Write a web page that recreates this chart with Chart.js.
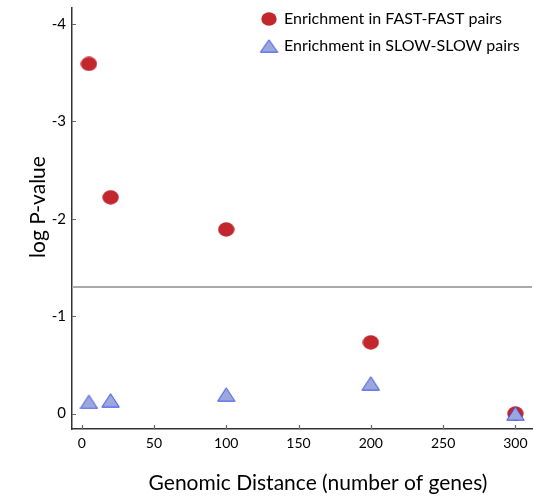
<!DOCTYPE html>
<html>
<head>
<meta charset="utf-8">
<script src="https://cdn.jsdelivr.net/npm/chart.js@4/dist/chart.umd.min.js"></script>
<style>
  html, body { margin: 0; padding: 0; background: #fff; }
  #wrap { position: relative; width: 533px; height: 498px; }
</style>
</head>
<body>
<div id="wrap"><canvas id="c" width="533" height="498"></canvas></div>
<script>
// ---- data ----
const distances = [5, 20, 100, 200, 300];
const fastFastLogP = [-3.59, -2.22, -1.89, -0.73, 0.0];
const slowSlowLogP = [-0.12, -0.135, -0.195, -0.31, 0.0];
const significanceLogP = -1.3;
const xTickValues = [0, 50, 100, 150, 200, 250, 300];
const yTickValues = [-4, -3, -2, -1, 0];
const seriesLabels = ['Enrichment in FAST-FAST pairs', 'Enrichment in SLOW-SLOW pairs'];
const xTitle = 'Genomic Distance (number of genes)';
const yTitle = 'log P-value';

// ---- styles ----
const RED = '#c1272d';
const BLUE_FILL = '#9ba8dc';
const BLUE_EDGE = '#3b4cf0';
const FONT = 'Lato, "Open Sans", sans-serif';

function ellipseImg(w, h, color) {
  const c = document.createElement('canvas');
  c.width = w; c.height = h;
  const g = c.getContext('2d');
  g.fillStyle = color;
  g.beginPath();
  g.ellipse(w / 2, h / 2, w / 2 - 0.3, h / 2 - 0.3, 0, 0, Math.PI * 2);
  g.fill();
  return c;
}
function triangleImg(w, h) {
  const c = document.createElement('canvas');
  c.width = w; c.height = h;
  const g = c.getContext('2d');
  g.fillStyle = BLUE_FILL;
  g.strokeStyle = BLUE_EDGE;
  g.lineWidth = 1;
  g.beginPath();
  g.moveTo(w / 2, 0.8);
  g.lineTo(w - 0.8, h - 0.8);
  g.lineTo(0.8, h - 0.8);
  g.closePath();
  g.fill();
  g.stroke();
  return c;
}
const redDot = ellipseImg(17, 15, RED);
const blueTri = triangleImg(19, 15);
const redDotLegend = ellipseImg(16, 14, RED);
const blueTriLegend = triangleImg(19, 14);

const pts = (ys) => distances.map((x, i) => ({ x: x, y: ys[i] }));

const overlay = {
  id: 'overlay',
  beforeDatasetsDraw(chart) {
    const { ctx, chartArea, scales } = chart;
    const y = scales.y.getPixelForValue(significanceLogP);
    ctx.save();
    ctx.strokeStyle = '#aaaaaa';
    ctx.lineWidth = 2;
    ctx.beginPath();
    ctx.moveTo(chartArea.left, y);
    ctx.lineTo(chartArea.right, y);
    ctx.stroke();
    ctx.restore();
  },
  afterDraw(chart) {
    const { ctx, chartArea, scales } = chart;
    ctx.save();
    // inward tick marks
    ctx.strokeStyle = '#666';
    ctx.lineWidth = 1.2;
    ctx.beginPath();
    yTickValues.forEach(v => {
      const py = Math.round(scales.y.getPixelForValue(v)) + 0.5;
      ctx.moveTo(chartArea.left, py);
      ctx.lineTo(chartArea.left + 4, py);
    });
    xTickValues.forEach(v => {
      const px = Math.round(scales.x.getPixelForValue(v)) + 0.5;
      ctx.moveTo(px, chartArea.bottom);
      ctx.lineTo(px, chartArea.bottom - 4);
    });
    ctx.stroke();

    // axis titles
    ctx.fillStyle = '#000';
    ctx.font = '21px ' + FONT;
    ctx.textAlign = 'center';
    ctx.textBaseline = 'middle';
    ctx.fillText(xTitle, 318, 483);
    ctx.save();
    ctx.translate(38, 207);
    ctx.rotate(-Math.PI / 2);
    ctx.fillText(yTitle, 0, 0);
    ctx.restore();

    // legend
    ctx.font = '16px ' + FONT;
    ctx.textAlign = 'left';
    const legendRows = [
      { img: redDotLegend, label: chart.data.datasets[0].label, y: 19 },
      { img: blueTriLegend, label: chart.data.datasets[1].label, y: 46 }
    ];
    legendRows.forEach(r => {
      ctx.drawImage(r.img, 269 - r.img.width / 2, r.y - r.img.height / 2);
      ctx.fillText(r.label, 284, r.y);
    });
    ctx.restore();
  }
};

new Chart(document.getElementById('c'), {
  type: 'scatter',
  data: {
    datasets: [
      { label: seriesLabels[0], data: pts(fastFastLogP), pointStyle: redDot,
        backgroundColor: RED, borderColor: RED, order: 2 },
      { label: seriesLabels[1], data: pts(slowSlowLogP), pointStyle: blueTri,
        backgroundColor: BLUE_FILL, borderColor: BLUE_EDGE, order: 1 }
    ]
  },
  options: {
    responsive: false,
    animation: false,
    devicePixelRatio: 1,
    layout: { autoPadding: false, padding: { top: 8, right: 1, left: 0, bottom: 0 } },
    plugins: { legend: { display: false }, tooltip: { enabled: false } },
    scales: {
      x: {
        type: 'linear',
        min: -6.7,
        max: 311.5,
        afterBuildTicks: s => { s.ticks = xTickValues.map(v => ({ value: v })); },
        afterFit: s => { s.height = 69; s.paddingLeft = 0; s.paddingRight = 0; },
        grid: { display: true, drawOnChartArea: false, drawTicks: false },
        border: { display: true, color: '#333', width: 1.5 },
        ticks: { color: '#000', font: { family: FONT, size: 14 }, padding: 6, maxRotation: 0 },
        title: { display: false }
      },
      y: {
        type: 'linear',
        reverse: true,
        min: -4.164,
        max: 0.159,
        afterBuildTicks: s => { s.ticks = yTickValues.map(v => ({ value: v })); },
        afterFit: s => { s.width = 72; s.paddingTop = 0; s.paddingBottom = 0; },
        grid: { display: true, drawOnChartArea: false, drawTicks: false },
        border: { display: true, color: '#333', width: 1.5 },
        ticks: { color: '#000', font: { family: FONT, size: 15 }, padding: 6 },
        title: { display: false }
      }
    }
  },
  plugins: [overlay]
});
</script>
</body>
</html>
